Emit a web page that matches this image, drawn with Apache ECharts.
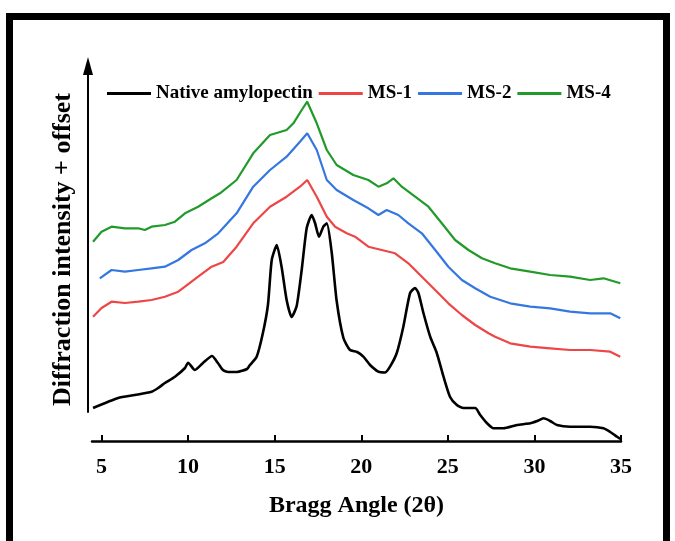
<!DOCTYPE html>
<html>
<head>
<meta charset="utf-8">
<script src="https://cdn.jsdelivr.net/npm/echarts@6/dist/echarts.min.js"></script>
<style>html,body{margin:0;padding:0;background:#fff}#c{width:675px;height:541px}</style>
</head>
<body>
<div id="c"></div>
<script>
var xTicks = [5, 10, 15, 20, 25, 30, 35];
var seriesNames = ['Native amylopectin', 'MS-1', 'MS-2', 'MS-4'];

var native = [
[4.51,33],[5.96,43],[6.92,46],[7.89,49.3],[8.27,53],[8.66,58],[9.24,64.3],[9.82,73],[10.0,78.3],[10.39,71],
[10.86,78],[11.38,85],[11.72,78],[12.01,71],[12.24,69.3],[12.82,69],[13.40,72],[13.57,76],[13.96,84.3],[14.32,108],
[14.61,136],[14.83,181],[15.12,196],[15.40,174],[15.69,141],[15.98,124],[16.27,135],[16.56,171],[16.85,213],[17.14,226],
[17.33,218],[17.56,204.3],[17.81,214.3],[18.01,217.7],[18.29,189],[18.58,140],[18.97,103],[19.35,91],[19.76,89],[20.12,84.3],
[20.51,76],[20.99,69.3],[21.38,68.5],[21.66,74.3],[22.05,88],[22.43,114.3],[22.82,148],[23.11,153],[23.30,148],[23.59,128],
[23.98,104.3],[24.36,88],[24.75,64.3],[25.13,44],[25.52,36],[25.90,33],[26.58,33],[26.87,26],[27.25,18],[27.64,12.7],
[28.21,12.7],[28.99,16],[29.76,17.7],[30.16,20],[30.53,22.7],[30.91,20],[31.30,16],[32.06,14.3],[33.22,14.3],[33.99,12.7],
[34.38,9],[34.77,4.3],[34.96,2]
];
var ms1 = [
[4.51,124.3],[5.0,133],[5.58,139.3],[6.35,138],[7.12,139.3],[7.89,141],[8.66,144.3],[9.43,149.3],[9.82,154.3],[10.58,164.3],
[11.36,174.3],[12.03,179],[12.80,194.3],[13.76,217.7],[14.73,234.3],[15.69,244.3],[16.46,254.3],[16.88,261],[17.43,244.3],[18.01,224.3],
[18.49,214.3],[19.16,207.7],[19.64,204.3],[20.41,194.3],[21.18,191],[21.95,187.7],[22.72,177.7],[23.50,164.3],[24.27,151],[25.03,137.7],
[25.81,126],[26.58,116],[27.35,107.7],[27.73,104.3],[28.60,97.7],[29.76,94.3],[30.91,92.7],[32.06,91],[33.22,91],[34.38,89.3],[34.96,84.3]
];
var ms2 = [
[4.90,162.7],[5.58,171],[6.35,169.3],[7.12,171],[7.89,172.7],[8.66,174.3],[9.43,181],[10.20,191],[10.97,197.7],[11.74,207.7],
[12.80,227.7],[13.76,254.3],[14.73,271],[15.69,284.3],[16.46,299.3],[16.88,307.7],[17.43,291],[18.01,261],[18.58,251],[19.54,241],
[20.41,232.7],[20.99,226],[21.47,231],[22.14,226],[22.72,217.7],[23.50,207.7],[24.27,191],[25.03,174.3],[25.81,161],[26.58,152.7],
[27.45,144.3],[28.60,137.7],[29.76,134.3],[30.91,132.7],[32.06,129.3],[33.22,127.7],[34.38,127.7],[34.96,122.7]
];
var ms4 = [
[4.51,199.3],[5.0,209.3],[5.58,214.3],[6.35,212.7],[7.12,212.7],[7.50,211],[7.89,214.3],[8.66,216],[9.24,219.3],[9.82,227.7],
[10.58,234.3],[11.36,242.7],[11.84,247.7],[12.80,261],[13.76,287.7],[14.73,306],[15.69,311],[16.08,317.7],[16.56,331],[16.88,339.3],
[17.43,317.7],[18.01,291],[18.58,276],[19.54,266],[20.41,261],[20.99,254.3],[21.47,257.7],[21.86,262.7],[22.34,254.3],[23.11,244.3],
[23.88,234.3],[24.65,217.7],[25.42,201],[26.19,191],[26.97,182.7],[27.73,177.7],[28.60,172.7],[29.76,169.3],[30.91,166],[32.06,164.3],
[33.22,161],[33.99,162.7],[34.96,157.7]
];

var colors = ['#000000', '#ee4646', '#3577e0', '#229a2a'];
var font = 'Liberation Serif';

var chart = echarts.init(document.getElementById('c'), null, {renderer: 'canvas'});
function mk(name, data, color, w, smooth) {
  return {name: name, type: 'line', data: data, xAxisIndex: 0, yAxisIndex: 0,
    showSymbol: false, symbol: 'none', smooth: smooth,
    lineStyle: {color: color, width: w}, itemStyle: {color: color}};
}
chart.setOption({
  animation: false,
  backgroundColor: '#fff',
  graphic: [{type: 'rect', shape: {x: 9.5, y: 16.5, width: 657, height: 700},
    style: {fill: 'none', stroke: '#000', lineWidth: 7}, silent: true, z: 100}],
  legend: {
    data: seriesNames, left: 102, top: 79, itemWidth: 44, itemHeight: 3, itemGap: 6, icon: 'rect',
    textStyle: {fontFamily: font, fontWeight: 'bold', fontSize: 19, color: '#000'}
  },
  grid: [
    {left: 92, right: 54, top: 58, bottom: 100, containLabel: false},
    {left: 88, right: 580, top: 66, bottom: 129, containLabel: false}
  ],
  xAxis: [
    {type: 'value', gridIndex: 0, min: 4.45, max: 35,
      name: 'Bragg Angle (2θ)', nameLocation: 'middle', nameGap: 53,
      nameTextStyle: {fontFamily: font, fontWeight: 'bold', fontSize: 24, color: '#000'},
      axisLine: {show: true, lineStyle: {color: '#000', width: 2.5}},
      axisTick: {show: true, inside: true, length: 6, customValues: xTicks, lineStyle: {color: '#000', width: 2}},
      axisLabel: {customValues: xTicks, margin: 15, fontFamily: font, fontWeight: 'bold', fontSize: 22, color: '#000'},
      splitLine: {show: false}},
    {type: 'value', gridIndex: 1, show: false, min: 0, max: 1}
  ],
  yAxis: [
    {type: 'value', gridIndex: 0, min: 0, max: 383,
      name: 'Diffraction intensity + offset', nameLocation: 'middle', nameGap: 16,
      nameTextStyle: {fontFamily: font, fontWeight: 'bold', fontSize: 26, color: '#000'},
      axisLine: {show: false}, axisTick: {show: false}, axisLabel: {show: false}, splitLine: {show: false}},
    {type: 'value', gridIndex: 1, min: 0, max: 1,
      axisLine: {show: true, symbol: ['none', 'triangle'], symbolSize: [10, 18], lineStyle: {color: '#000', width: 2}},
      axisTick: {show: false}, axisLabel: {show: false}, splitLine: {show: false}}
  ],
  series: [
    mk(seriesNames[0], native, colors[0], 2.6, 0.2),
    mk(seriesNames[1], ms1, colors[1], 2.2, false),
    mk(seriesNames[2], ms2, colors[2], 2.2, false),
    mk(seriesNames[3], ms4, colors[3], 2.2, false)
  ]
});
</script>
</body>
</html>
